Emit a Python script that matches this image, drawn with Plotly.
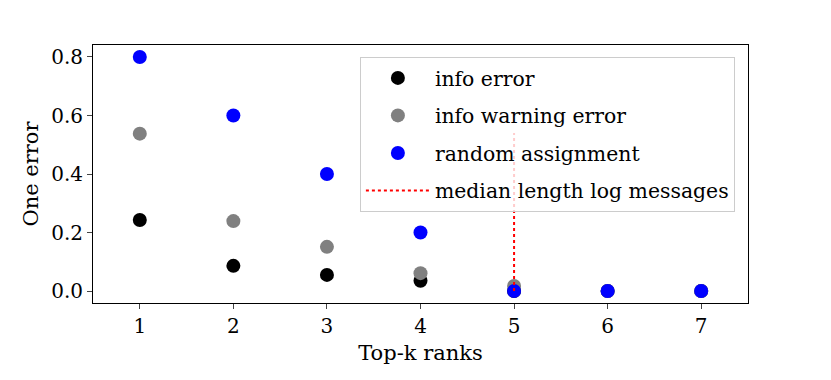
import plotly.graph_objects as go

ranks = [1, 2, 3, 4, 5, 6, 7]
info_error = [0.243, 0.086, 0.055, 0.035, 0.0, 0.0, 0.0]
info_warning_error = [0.538, 0.239, 0.151, 0.061, 0.017, 0.0, 0.0]
random_assignment = [0.8, 0.6, 0.4, 0.2, 0.0, 0.0, 0.0]
median_x = [5, 5]
median_y = [0.0, 0.54]

FONT = "DejaVu Serif"

fig = go.Figure()
fig.add_trace(go.Scatter(x=ranks, y=info_error, mode="markers", name="info error",
                         legendgroup="a", marker=dict(color="black", size=14)))
fig.add_trace(go.Scatter(x=ranks, y=info_warning_error, mode="markers", name="info warning error",
                         legendgroup="b", marker=dict(color="gray", size=14)))
fig.add_trace(go.Scatter(x=ranks, y=random_assignment, mode="markers", name="random assignment",
                         legendgroup="c", marker=dict(color="blue", size=14)))
fig.add_trace(go.Scatter(x=median_x, y=median_y, mode="lines", name="median length log messages",
                         legendgroup="d", line=dict(color="red", width=2, dash="dot")))

# page body has an 8px margin, so shift everything back
fig.update_layout(
    width=831, height=380,
    margin=dict(l=85, r=91, t=37, b=85),
    plot_bgcolor="white", paper_bgcolor="white",
    font=dict(family=FONT, size=20, color="black"),
    legend=dict(x=0.98, y=0.953, xanchor="right", yanchor="top",
                bgcolor="rgba(255,255,255,0.8)", bordercolor="#cccccc", borderwidth=1,
                font=dict(size=20.4), itemwidth=64, tracegroupgap=8),
    showlegend=True,
)
fig.update_xaxes(range=[0.5, 7.5], tickvals=ranks, ticks="outside", ticklen=5, automargin=False,
                 showline=True, linecolor="black", mirror=True, showgrid=False, zeroline=False,
                 title=dict(text="Top-k ranks", standoff=8, font=dict(size=21)))
fig.update_yaxes(range=[-0.041, 0.841], tickvals=[0, 0.2, 0.4, 0.6, 0.8], tickformat=".1f",
                 ticks="outside", ticklen=5, automargin=False,
                 showline=True, linecolor="black", mirror=True, showgrid=False, zeroline=False,
                 title=dict(text="One error", standoff=6, font=dict(size=21)))

fig.write_html("out.html")
